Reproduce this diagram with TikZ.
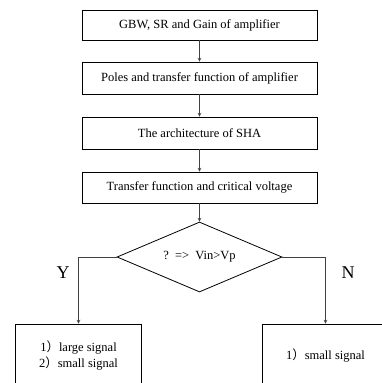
\documentclass[tikz,border=0pt]{standalone}
\usepackage{fontspec}
\setmainfont{Liberation Serif}
\newfontfamily\cjk{Noto Sans CJK SC}
\usepackage{tikz}
\usetikzlibrary{positioning,shapes.geometric}
\tikzset{%
  every stage/.style={
    rectangle,
    draw,
    line width=0.8pt,
    minimum width=235pt,
    inner sep=0pt,
    font=\fontsize{12.5}{15}\selectfont
  },
  decision/.style={
    diamond,
    draw,
    line width=0.8pt,
    aspect=2.4,
    inner sep=0pt,
    minimum width=165pt,
    minimum height=70pt,
    font=\fontsize{12.5}{15}\selectfont
  },
  outcome/.style={
    rectangle,
    draw,
    line width=0.8pt,
    minimum width=126pt,
    minimum height=62pt,
    align=center,
    font=\fontsize{12.5}{16}\selectfont
  },
  flow/.style={
    ->,
    draw=black!75,
    line width=0.7pt
  },
  branch/.style={
    font=\fontsize{18}{20}\selectfont
  },
}

\begin{document}
\begin{tikzpicture}[> = stealth, x=1pt, y=-1pt]
\useasboundingbox (0,0) rectangle (382,383);
    \node[every stage, minimum height=30pt] (gbw) at (199.5,25) {GBW, SR and Gain of amplifier};
    \node[every stage, minimum height=32pt] (poles) at (199.5,78) {Poles and transfer function of amplifier};
    \node[every stage, minimum height=32pt] (sha) at (199.5,133) {The architecture of SHA};
    \node[every stage, minimum height=31pt] (tf) at (199.5,187.5) {Transfer function and critical voltage};
    \node[decision] (cond) at (199.5,257) {?\ \ =>\ \ Vin>Vp};
    \node[outcome] (yes) at (78.5,355) {1{\cjk ）}large signal\\2{\cjk ）}small signal};
    \node[outcome] (no) at (325.5,355) {1{\cjk ）}small signal};
    \node[branch] (ylab) at (63,273) {Y};
    \node[branch] (nlab) at (348,273) {N};
    \foreach \a/\b in {gbw/poles, poles/sha, sha/tf, tf/cond}
        \draw[flow] (\a.south) -- (\b.north);
    \draw[flow] (cond.west) -| (yes.north);
    \draw[flow] (cond.east) -| (no.north);
\end{tikzpicture}
\end{document}
